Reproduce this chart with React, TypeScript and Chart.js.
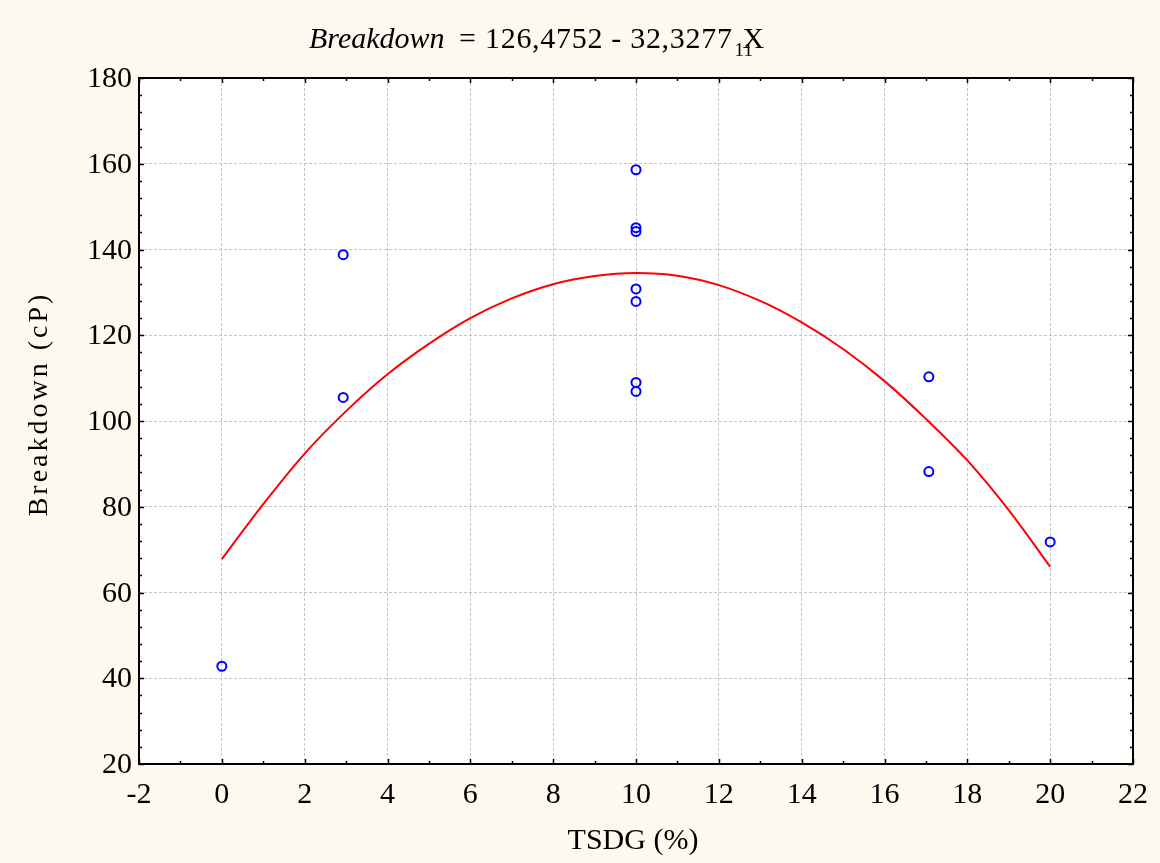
import { useEffect, useRef } from "react";
import { Chart, registerables } from "chart.js";

Chart.register(...registerables);

// Observed points (TSDG %, Breakdown cP)
const pointX = [0, 2.93, 2.93, 10, 10, 10, 10, 10, 10, 10, 17.07, 17.07, 20];
const pointY = [42.8, 138.8, 105.5, 158.6, 145.1, 144.2, 130.8, 127.9, 109.0, 106.9, 110.3, 88.2, 71.8];

// Fitted curve
const curveX = [0, 1, 2, 3, 4, 5, 6, 7, 8, 9, 10, 11, 12, 13, 14, 15, 16, 17, 18, 19, 20];
const curveY = [67.8, 80.6, 92.4, 102.3, 110.9, 118, 124, 128.6, 131.9, 133.8, 134.5, 133.9, 131.7, 128, 123, 116.8, 109.3, 100.5, 90.8, 79.2, 66];

const xTickValues = [-2, 0, 2, 4, 6, 8, 10, 12, 14, 16, 18, 20, 22];
const yTickValues = [20, 40, 60, 80, 100, 120, 140, 160, 180];
const xMinorStep = 1;
const yMinorStep = 4;

const titleVar = "Breakdown";
const titleEq = "=";
const titleNums = "126,4752 - 32,3277";
const titleSub = "11";
const titleX = "X";
const xAxisTitle = "TSDG (%)";
const yAxisTitle = "Breakdown (cP)";

const SERIF = '"Liberation Serif", "Times New Roman", serif';

export default function App() {
  const ref = useRef<HTMLCanvasElement | null>(null);

  useEffect(() => {
    const canvas = ref.current;
    if (!canvas) return;

    const decor = {
      id: "decor",
      beforeDraw(chart: any) {
        const { ctx, chartArea } = chart;
        ctx.save();
        ctx.fillStyle = "#fdf9ee";
        ctx.fillRect(0, 0, chart.width, chart.height);
        ctx.fillStyle = "#ffffff";
        ctx.fillRect(chartArea.left, chartArea.top, chartArea.right - chartArea.left, chartArea.bottom - chartArea.top);
        ctx.restore();
      },
      afterDraw(chart: any) {
        const { ctx, chartArea } = chart;
        const { left, right, top, bottom } = chartArea;
        const xs = chart.scales.x;
        const ys = chart.scales.y;
        ctx.save();
        // ticks (inward)
        ctx.strokeStyle = "#000";
        ctx.lineWidth = 1.5;
        ctx.beginPath();
        for (let v = xs.min; v <= xs.max + 1e-9; v += xMinorStep) {
          const px = Math.round(xs.getPixelForValue(v)) + 0.5;
          const major = xTickValues.includes(v);
          const len = major ? 5 : 3;
          ctx.moveTo(px, bottom);
          ctx.lineTo(px, bottom - len);
          ctx.moveTo(px, top);
          ctx.lineTo(px, top + len);
        }
        for (let v = ys.min; v <= ys.max + 1e-9; v += yMinorStep) {
          const py = Math.round(ys.getPixelForValue(v)) + 0.5;
          const major = yTickValues.includes(v);
          const len = major ? 5 : 3;
          ctx.moveTo(left, py);
          ctx.lineTo(left + len, py);
          ctx.moveTo(right, py);
          ctx.lineTo(right - len, py);
        }
        ctx.stroke();
        // frame
        ctx.lineWidth = 2;
        ctx.strokeRect(left, top, right - left, bottom - top);

        // tick labels
        ctx.fillStyle = "#000";
        ctx.font = `30px ${SERIF}`;
        ctx.textBaseline = "alphabetic";
        ctx.textAlign = "center";
        for (const v of xTickValues) {
          ctx.fillText(String(v), xs.getPixelForValue(v), 803);
        }
        ctx.textAlign = "right";
        for (const v of yTickValues) {
          ctx.fillText(String(v), left - 7, ys.getPixelForValue(v) + 9);
        }

        // x axis title
        ctx.textAlign = "center";
        ctx.font = `30px ${SERIF}`;
        ctx.fillText(xAxisTitle, (left + right) / 2 - 3, 849);

        // y axis title
        ctx.save();
        ctx.translate(47, 404);
        ctx.rotate(-Math.PI / 2);
        ctx.font = `28px ${SERIF}`;
        (ctx as any).letterSpacing = "3px";
        ctx.textAlign = "center";
        ctx.fillText(yAxisTitle, 0, 0);
        ctx.restore();

        // title
        ctx.textAlign = "left";
        ctx.font = `italic 30px ${SERIF}`;
        ctx.fillText(titleVar, 309, 48);
        ctx.font = `30px ${SERIF}`;
        ctx.fillText(titleEq, 459, 48);
        (ctx as any).letterSpacing = "0.7px";
        ctx.fillText(titleNums, 485, 48);
        const numsEnd = 485 + ctx.measureText(titleNums).width;
        (ctx as any).letterSpacing = "0px";
        ctx.font = `19px ${SERIF}`;
        ctx.fillText(titleSub, numsEnd + 2, 56);
        ctx.font = `30px ${SERIF}`;
        ctx.fillText(titleX, numsEnd + 10, 48);
        ctx.restore();
      },
    };

    const chart = new Chart(canvas, {
      type: "scatter",
      data: {
        datasets: [
          {
            label: "Observed",
            data: pointX.map((x, i) => ({ x, y: pointY[i] })),
            showLine: false,
            pointStyle: "circle",
            pointRadius: 4.5,
            pointBorderWidth: 2,
            borderColor: "#0000ff",
            backgroundColor: "rgba(0,0,0,0)",
            order: 0,
          },
          {
            label: "Fit",
            data: curveX.map((x, i) => ({ x, y: curveY[i] })),
            showLine: true,
            pointRadius: 0,
            borderColor: "#ff0000",
            borderWidth: 2,
            cubicInterpolationMode: "monotone",
            fill: false,
            order: 1,
          },
        ],
      },
      options: {
        animation: false,
        responsive: false,
        devicePixelRatio: 1,
        layout: { padding: { top: 78, right: 27, left: 0, bottom: 0 } },
        plugins: {
          legend: { display: false },
          tooltip: { enabled: false },
          title: { display: false },
        },
        scales: {
          x: {
            type: "linear",
            min: -2,
            max: 22,
            ticks: { display: false, stepSize: 2 },
            grid: { color: "#c4c4c4", lineWidth: 1, drawTicks: false },
            border: { display: false, dash: [3, 2] },
            afterFit: (s: any) => {
              s.height = 99;
            },
          },
          y: {
            type: "linear",
            min: 20,
            max: 180,
            ticks: { display: false, stepSize: 20 },
            grid: { color: "#c4c4c4", lineWidth: 1, drawTicks: false },
            border: { display: false, dash: [3, 2] },
            afterFit: (s: any) => {
              s.width = 139;
            },
          },
        },
      },
      plugins: [decor],
    });

    return () => chart.destroy();
  }, []);

  return (
    <div style={{ position: "absolute", left: 0, top: 0, width: 1160, height: 863 }}>
      <canvas ref={ref} width={1160} height={863} style={{ display: "block" }} />
    </div>
  );
}
